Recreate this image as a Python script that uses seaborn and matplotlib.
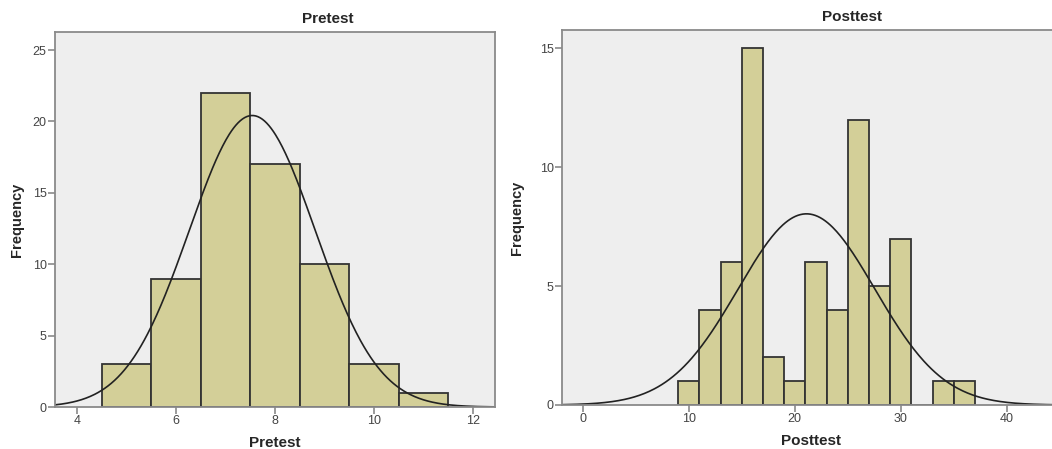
import numpy as np
import pandas as pd
import matplotlib
matplotlib.use("Agg")
import matplotlib.pyplot as plt
import seaborn as sns

# Valores (contagem por classe)
pre_edges = [4.5, 5.5, 6.5, 7.5, 8.5, 9.5, 10.5, 11.5]
pre_counts = [3, 9, 22, 17, 10, 3, 1]
pre_mean, pre_sd = 7.54, 1.27

post_edges = [9, 11, 13, 15, 17, 19, 21, 23, 25, 27, 29, 31, 33, 35, 37]
post_counts = [1, 4, 6, 15, 2, 1, 6, 4, 12, 5, 7, 0, 1, 1]
post_mean, post_sd = 21.1, 6.45

pre_xticks = [4, 6, 8, 10, 12]
pre_yticks = [0, 5, 10, 15, 20, 25]
post_xticks = [0, 10, 20, 30, 40]
post_yticks = [0, 5, 10, 15]

sns.set_style("white")
plt.rcParams['font.family'] = ['Liberation Sans', 'DejaVu Sans']

FILL = "#d3cf98"
BG = "#eeeeee"
EDGE = "#333333"
SPINE = "#8a8a8a"

fig = plt.figure(figsize=(10.52, 4.49), dpi=100)
ax1 = fig.add_axes([0.0523, 0.0935, 0.4183, 0.835])
ax2 = fig.add_axes([0.5342, 0.098, 0.4734, 0.835])


def painel(ax, edges, counts, mean, sd, xlim, ylim, xticks, yticks, nome, ypad):
    e = np.array(edges, dtype=float)
    mids = (e[:-1] + e[1:]) / 2
    df = pd.DataFrame({"x": mids, "n": counts})
    sns.histplot(data=df, x="x", weights="n", bins=list(edges), ax=ax,
                 color=FILL, edgecolor=EDGE, linewidth=1.3, alpha=1)

    # curva normal ajustada (freq = N * largura * densidade)
    largura = e[1] - e[0]
    total = sum(counts)
    xs = np.linspace(xlim[0], xlim[1], 400)
    ys = total * largura * np.exp(-0.5 * ((xs - mean) / sd) ** 2) / (sd * np.sqrt(2 * np.pi))
    sns.lineplot(x=xs, y=ys, ax=ax, color="#222222", linewidth=1.2)

    ax.set_facecolor(BG)
    ax.set_xlim(*xlim)
    ax.set_ylim(*ylim)
    ax.set_xticks(xticks)
    ax.set_yticks(yticks)
    ax.tick_params(axis="both", direction="out", length=5, width=1.2,
                   bottom=True, left=True,
                   color=SPINE, labelcolor="#444444", labelsize=9, pad=1)
    for s in ax.spines.values():
        s.set_color(SPINE)
        s.set_linewidth(1.3)
    ax.set_xlabel(nome, fontsize=11, fontweight="bold", labelpad=6)
    ax.set_ylabel("Frequency", fontsize=10.5, fontweight="bold", labelpad=ypad)


painel(ax1, pre_edges, pre_counts, pre_mean, pre_sd, (3.56, 12.44), (0, 26.26),
       pre_xticks, pre_yticks, "Pretest", 6)
painel(ax2, post_edges, post_counts, post_mean, post_sd, (-1.95, 45), (0, 15.77),
       post_xticks, post_yticks, "Posttest", 11)

fig.text(328 / 1052, 1 - 19 / 449, "Pretest", ha="center", va="center",
         fontsize=11, fontweight="bold")
fig.text(852 / 1052, 1 - 17 / 449, "Posttest", ha="center", va="center",
         fontsize=11, fontweight="bold")

fig.savefig("out.png", dpi=100)
